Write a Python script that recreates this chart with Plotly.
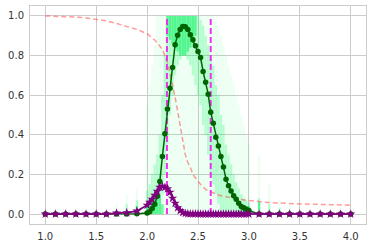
import plotly.graph_objects as go

# ---------------- data ----------------
x_vals = [1.0, 1.1, 1.2, 1.3, 1.4, 1.5, 1.6, 1.7, 1.8, 1.9,
          2.0, 2.025, 2.05, 2.075, 2.1, 2.125, 2.15, 2.175, 2.2, 2.225,
          2.25, 2.275, 2.3, 2.325, 2.35, 2.375, 2.4, 2.425, 2.45, 2.475,
          2.5, 2.525, 2.55, 2.575, 2.6, 2.625, 2.65, 2.675, 2.7, 2.725,
          2.75, 2.775, 2.8, 2.825, 2.85, 2.875, 2.9, 2.925, 2.95, 2.975,
          3.0, 3.1, 3.2, 3.3, 3.4, 3.5, 3.6, 3.7, 3.8, 3.9, 4.0]

mean_green = [0, 0, 0, 0, 0, 0, 0, 0, 0, 0.002,
              0.005, 0.012, 0.028, 0.05, 0.09, 0.165, 0.29, 0.405, 0.53, 0.635,
              0.74, 0.855, 0.903, 0.932, 0.947, 0.945, 0.932, 0.905, 0.88, 0.85,
              0.82, 0.79, 0.72, 0.665, 0.605, 0.514, 0.458, 0.388, 0.344, 0.29,
              0.237, 0.176, 0.143, 0.117, 0.092, 0.075, 0.055, 0.038, 0.032, 0.025,
              0.018, 0, 0, 0, 0, 0, 0, 0, 0, 0, 0]

purple_vals = [0, 0, 0, 0, 0, 0, 0, 0.005, 0.007, 0.015,
               0.045, 0.06, 0.075, 0.095, 0.115, 0.135, 0.14, 0.135, 0.128, 0.11,
               0.08, 0.055, 0.032, 0.018, 0.008, 0.004, 0.002, 0.001, 0.001, 0.001,
               0.001, 0, 0, 0, 0, 0, 0, 0, 0, 0,
               0, 0, 0, 0, 0, 0, 0, 0, 0, 0,
               0, 0, 0, 0, 0, 0, 0, 0, 0, 0, 0]

red_vals = [1.0, 0.999, 0.997, 0.994, 0.99, 0.984, 0.975, 0.962, 0.948, 0.932,
            0.91, 0.90, 0.89, 0.878, 0.865, 0.85, 0.83, 0.80, 0.765, 0.71,
            0.655, 0.59, 0.52, 0.44, 0.37, 0.30, 0.26, 0.235, 0.20, 0.18,
            0.165, 0.15, 0.135, 0.125, 0.118, 0.112, 0.105, 0.10, 0.096, 0.093,
            0.09, 0.087, 0.085, 0.082, 0.08, 0.077, 0.075, 0.073, 0.072, 0.07,
            0.068, 0.063, 0.058, 0.055, 0.053, 0.051, 0.05, 0.048, 0.047, 0.046, 0.045]

# sample spread (faint green columns): outer top, denser core range, densest range
band_hi = [0, 0, 0, 0, 0, 0, 0, 0.05, 0.1, 0.13,
           0.55, 0.65, 0.75, 0.85, 1.0, 1.0, 1.0, 1.0, 1.0, 1.0,
           1.0, 1.0, 1.0, 1.0, 1.0, 1.0, 1.0, 1.0, 1.0, 1.0,
           1.0, 1.0, 1.0, 1.0, 1.0, 1.0, 1.0, 0.98, 0.95, 0.9,
           0.85, 0.8, 0.75, 0.7, 0.65, 0.6, 0.55, 0.5, 0.45, 0.4,
           0.35, 0.3, 0.15, 0.07, 0.05, 0.04, 0, 0, 0, 0, 0]
core_lo = [0, 0, 0, 0, 0, 0, 0, 0, 0, 0,
           0, 0, 0, 0, 0, 0, 0.1, 0.2, 0.35, 0.5,
           0.6, 0.7, 0.75, 0.78, 0.8, 0.8, 0.78, 0.75, 0.7, 0.65,
           0.6, 0.55, 0.45, 0.4, 0.3, 0.2, 0.15, 0.1, 0.05, 0,
           0, 0, 0, 0, 0, 0, 0, 0, 0, 0,
           0, 0, 0, 0, 0, 0, 0, 0, 0, 0, 0]
core_hi = [0, 0, 0, 0, 0, 0, 0, 0.02, 0.05, 0.07,
           0.12, 0.15, 0.2, 0.25, 0.3, 0.4, 0.6, 0.8, 1.0, 1.0,
           1.0, 1.0, 1.0, 1.0, 1.0, 1.0, 1.0, 1.0, 1.0, 1.0,
           1.0, 0.98, 0.95, 0.9, 0.85, 0.8, 0.75, 0.65, 0.6, 0.5,
           0.45, 0.35, 0.3, 0.25, 0.2, 0.16, 0.13, 0.1, 0.08, 0.07,
           0.06, 0.08, 0.05, 0.03, 0.02, 0.01, 0, 0, 0, 0, 0]
dense_lo = [0, 0, 0, 0, 0, 0, 0, 0, 0, 0,
            0, 0, 0, 0, 0, 0, 0, 0, 0.9, 0.88,
            0.86, 0.84, 0.82, 0.8, 0.8, 0.8, 0.82, 0.84, 0.86, 0.9,
            0, 0, 0, 0, 0, 0, 0, 0, 0, 0,
            0, 0, 0, 0, 0, 0, 0, 0, 0, 0,
            0, 0.02, 0, 0, 0, 0, 0, 0, 0, 0, 0]
dense_hi = [0, 0, 0, 0, 0, 0, 0, 0, 0.02, 0.04,
            0.05, 0.06, 0.07, 0.08, 0.1, 0.1, 0.05, 0, 1.0, 1.0,
            1.0, 1.0, 1.0, 1.0, 1.0, 1.0, 1.0, 1.0, 1.0, 1.0,
            0, 0, 0, 0, 0, 0, 0, 0, 0, 0,
            0, 0, 0, 0, 0, 0, 0.02, 0.03, 0.04, 0.04,
            0.04, 0.06, 0, 0, 0, 0, 0, 0, 0, 0, 0]

thresholds = [2.195, 2.625]
x_ticks = [1.0, 1.5, 2.0, 2.5, 3.0, 3.5, 4.0]
y_ticks = [0.0, 0.2, 0.4, 0.6, 0.8, 1.0]


def segments(xs, lo, hi):
    sx, sy = [], []
    for x, a, b in zip(xs, lo, hi):
        if b > a:
            sx += [x, x, None]
            sy += [a, b, None]
    return sx, sy


fig = go.Figure()

zeros = [0] * len(x_vals)
for lo, hi, col in [(zeros, band_hi, "rgba(0,255,90,0.07)"),
                    (core_lo, core_hi, "rgba(0,245,90,0.24)"),
                    (dense_lo, dense_hi, "rgba(0,240,90,0.55)")]:
    sx, sy = segments(x_vals, lo, hi)
    fig.add_trace(go.Scatter(x=sx, y=sy, mode="lines", hoverinfo="skip",
                             line=dict(color=col, width=2.4)))

# red dashed curve
fig.add_trace(go.Scatter(x=x_vals, y=red_vals, mode="lines",
                         line=dict(color="rgba(255,60,60,0.5)", width=1.5, dash="5px,3px")))

# magenta thresholds
for t in thresholds:
    fig.add_trace(go.Scatter(x=[t, t], y=[0, 1], mode="lines",
                             line=dict(color="rgba(238,40,238,0.95)", width=2, dash="6px,3px")))

# dark green mean
fig.add_trace(go.Scatter(x=x_vals, y=mean_green, mode="lines+markers",
                         line=dict(color="#006400", width=1.5),
                         marker=dict(color="#006400", size=5.5, symbol="circle")))

# purple
fig.add_trace(go.Scatter(x=x_vals, y=purple_vals, mode="lines+markers",
                         line=dict(color="#800080", width=1.8),
                         marker=dict(color="#800080", size=7, symbol="star")))

axis_common = dict(showgrid=True, gridcolor="#cccccc", gridwidth=1, zeroline=False,
                   showline=True, linecolor="#cccccc", linewidth=1, mirror=True,
                   automargin=False,
                   ticks="outside", ticklen=3, tickcolor="rgba(0,0,0,0)",
                   tickfont=dict(family="DejaVu Sans", size=10, color="#333333"))

fig.update_layout(
    width=372, height=248,
    margin=dict(l=30, r=6, t=6, b=24),
    paper_bgcolor="white", plot_bgcolor="white",
    showlegend=False,
    xaxis=dict(range=[0.85, 4.15], tickvals=x_ticks, tickformat=".1f", **axis_common),
    yaxis=dict(range=[-0.05, 1.05], tickvals=y_ticks, tickformat=".1f", **axis_common),
)

fig.write_html("out.html", config={"displayModeBar": False},
               post_script="document.body.style.margin='0px';")
